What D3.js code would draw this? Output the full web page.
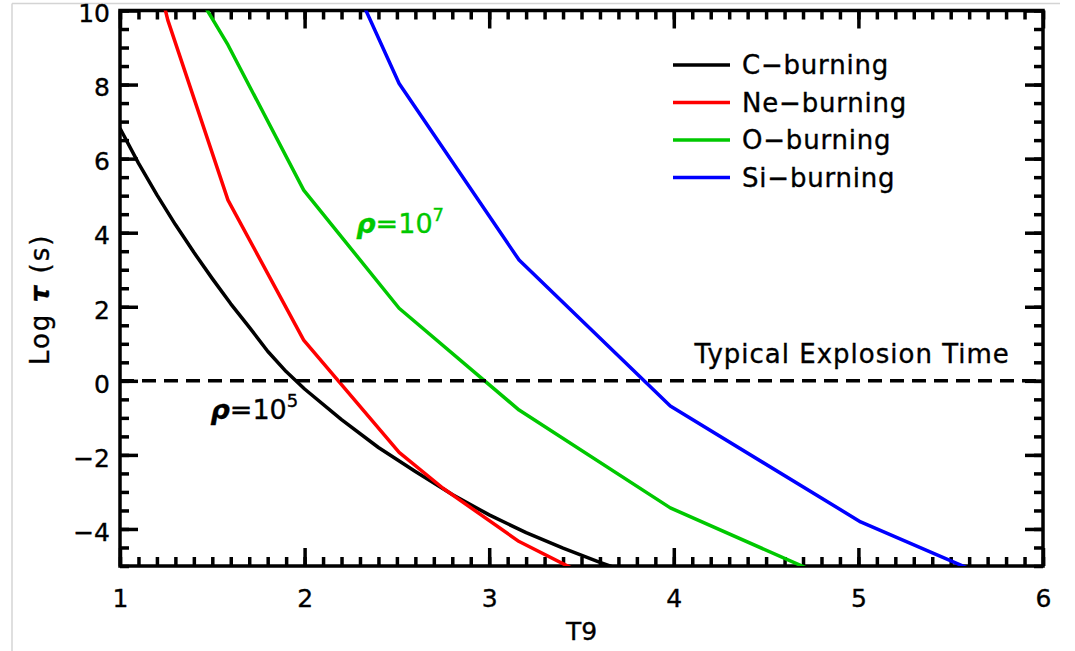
<!DOCTYPE html>
<html>
<head>
<meta charset="utf-8">
<script src="https://cdn.jsdelivr.net/npm/d3@7"></script>
<style>
  body { margin: 0; background: #fff; }
  svg text { font-family: "DejaVu Sans", sans-serif; fill: #000; stroke: #000; stroke-width: 0.35px; }
</style>
</head>
<body>
<div id="chart"></div>
<script>
// log burning timescales vs T9
// C-burning sampled finer, the others mostly on a 0.1 dex grid in T9
var cT  = [1.0, 1.1, 1.2, 1.3, 1.4, 1.5, 1.6, 1.7, 1.8, 1.9, 2.0, 2.2, 2.4, 2.6, 2.8, 3.0, 3.2, 3.4, 3.6, 3.8];
var cV  = [6.82, 5.88, 5.02, 4.22, 3.47, 2.76, 2.08, 1.45, 0.80, 0.25, -0.22, -1.05, -1.80, -2.45, -3.07, -3.62, -4.10, -4.52, -4.90, -5.26];
var neT = [1.000, 1.259, 1.585, 1.995, 2.512, 2.750, 3.162, 3.981];
var neV = [15.0, 9.74, 4.88, 1.10, -1.93, -2.90, -4.34, -6.40];
var oT  = [1.259, 1.585, 1.995, 2.512, 3.162, 3.981, 5.012];
var oV  = [11.78, 9.07, 5.15, 1.96, -0.79, -3.43, -5.70];
var siT = [1.995, 2.512, 3.162, 3.981, 5.012, 6.310];
var siV = [13.7, 8.03, 3.26, -0.68, -3.81, -6.60];

var seriesNames = ["C\u2212burning", "Ne\u2212burning", "O\u2212burning", "Si\u2212burning"];
var seriesColors = ["#000000", "#ff0000", "#00c800", "#0000ff"];
var seriesT = [cT, neT, oT, siT];
var seriesV = [cV, neV, oV, siV];

var xTicks = [1, 2, 3, 4, 5, 6];
var yTicks = [-4, -2, 0, 2, 4, 6, 8, 10];
var explosionLogTime = 0;

var width = 1075, height = 651;
var margin = {top: 10.5, right: 32, bottom: 85, left: 120};
var w = width - margin.left - margin.right,
    h = height - margin.top - margin.bottom;

var svg = d3.select("#chart")
  .append("svg")
    .attr("width", width)
    .attr("height", height);

// faint image border (top and left)
svg.append("line")
  .attr("x1", 12).attr("x2", 1060).attr("y1", 3.5).attr("y2", 3.5)
  .style("stroke", "#d4d4d4").style("stroke-width", 1.5);
svg.append("line")
  .attr("x1", 12).attr("x2", 12).attr("y1", 3.5).attr("y2", height)
  .style("stroke", "#d4d4d4").style("stroke-width", 1.5);

var vis = svg.append("g")
  .attr("transform", "translate(" + margin.left + "," + margin.top + ")");

var x = d3.scaleLinear()
  .domain([1, 6])
  .range([0, w]);
var y = d3.scaleLinear()
  .domain([-5, 10])
  .range([h, 0]);  // y reversed

vis.append("clipPath")
  .attr("id", "plotclip")
  .append("rect")
    .attr("width", w)
    .attr("height", h);

// minor ticks every 0.1 in x and 0.5 in y
var xMinor = d3.range(10, 61).map(function(d) { return d / 10; });
var yMinor = d3.range(-10, 21).map(function(d) { return d / 2; });

function styleAxis(g) {
  g.select(".domain").remove();
  g.selectAll(".tick line").style("stroke", "#000").style("stroke-width", 3.5);
  g.selectAll(".tick text").style("font-size", "25px");
}

// append axes to vis (ticks point inward, mirrored on all sides)
vis.append("g")
  .attr("transform", "translate(0," + h + ")")
  .call(d3.axisBottom(x).tickValues(xMinor).tickSize(-9).tickFormat(""))
  .call(styleAxis);
vis.append("g")
  .attr("transform", "translate(0," + h + ")")
  .call(d3.axisBottom(x).tickValues(xTicks).tickSize(-18).tickPadding(23)
    .tickFormat(d3.format("d")))
  .call(styleAxis);
vis.append("g")
  .call(d3.axisTop(x).tickValues(xMinor).tickSize(-9).tickFormat(""))
  .call(styleAxis);
vis.append("g")
  .call(d3.axisTop(x).tickValues(xTicks).tickSize(-18).tickFormat(""))
  .call(styleAxis);

vis.append("g")
  .call(d3.axisLeft(y).tickValues(yMinor).tickSize(-9).tickFormat(""))
  .call(styleAxis);
vis.append("g")
  .call(d3.axisLeft(y).tickValues(yTicks).tickSize(-18).tickPadding(10)
    .tickFormat(function(d) { return d < 0 ? "\u2212" + Math.abs(d) : d; }))
  .call(styleAxis)
  .selectAll(".tick text").attr("dy", "0.45em");
vis.append("g")
  .attr("transform", "translate(" + w + ",0)")
  .call(d3.axisRight(y).tickValues(yMinor).tickSize(-9).tickFormat(""))
  .call(styleAxis);
vis.append("g")
  .attr("transform", "translate(" + w + ",0)")
  .call(d3.axisRight(y).tickValues(yTicks).tickSize(-18).tickFormat(""))
  .call(styleAxis);

// frame
vis.append("rect")
  .attr("width", w)
  .attr("height", h)
  .style("fill", "none")
  .style("stroke", "#000")
  .style("stroke-width", 3.5);

// curves
var line = d3.line()
  .x(function(d) { return x(d.t); })
  .y(function(d) { return y(d.v); });

var curves = vis.append("g").attr("clip-path", "url(#plotclip)");

seriesV.forEach(function(vals, i) {
  var pts = seriesT[i].map(function(t, j) { return {t: t, v: vals[j]}; });
  curves.append("path")
    .datum(pts)
    .attr("d", line)
    .style("fill", "none")
    .style("stroke", seriesColors[i])
    .style("stroke-width", 3.5)
    .style("stroke-linejoin", "round");
});

// typical explosion time
curves.append("line")
  .attr("x1", x(1))
  .attr("x2", x(6))
  .attr("y1", y(explosionLogTime))
  .attr("y2", y(explosionLogTime))
  .style("stroke", "#000")
  .style("stroke-width", 3.5)
  .style("stroke-dasharray", "14 8");

vis.append("text")
  .attr("x", x(5.82))
  .attr("y", y(0.48))
  .attr("text-anchor", "end")
  .style("font-size", "26px")
  .style("letter-spacing", "1px")
  .text("Typical Explosion Time");

// density labels
function rhoLabel(tx, ty, exp, color) {
  var t = vis.append("text")
    .attr("x", x(tx))
    .attr("y", y(ty))
    .style("font-size", "27px")
    .style("fill", color)
    .style("stroke", color);
  t.append("tspan")
    .style("font-weight", "bold")
    .style("font-style", "italic")
    .text("\u03c1");
  t.append("tspan").text("=10");
  t.append("tspan")
    .attr("dy", -12)
    .style("font-size", "18px")
    .text(exp);
}
rhoLabel(2.28, 4.0, "7", "#00c800");
rhoLabel(1.49, -1.03, "5", "#000");

// legend
var legend = svg.append("g")
  .attr("transform", "translate(673,65)");

var lg = legend.selectAll("g")
  .data(seriesNames)
  .enter()
  .append("g")
    .attr("transform", function(d, i) { return "translate(0," + (i * 37.5) + ")"; });

lg.append("line")
  .attr("x1", 0)
  .attr("x2", 57)
  .style("stroke", function(d, i) { return seriesColors[i]; })
  .style("stroke-width", 3.5);

lg.append("text")
  .attr("x", 69)
  .attr("y", 9)
  .style("font-size", "26px")
  .style("letter-spacing", "0.8px")
  .text(function(d) { return d; });

// axis titles
svg.append("text")
  .attr("x", margin.left + x(3.5))
  .attr("y", 640)
  .attr("text-anchor", "middle")
  .style("font-size", "25px")
  .text("T9");

var ytitle = svg.append("text")
  .attr("transform", "translate(49," + (margin.top + y(2.2)) + ") rotate(-90)")
  .attr("text-anchor", "middle")
  .style("font-size", "26px")
  .style("letter-spacing", "2px");
ytitle.append("tspan").text("Log ");
ytitle.append("tspan").style("font-weight", "bold").style("font-style", "italic").text("\u03c4");
ytitle.append("tspan").text(" (s)");
</script>
</body>
</html>
